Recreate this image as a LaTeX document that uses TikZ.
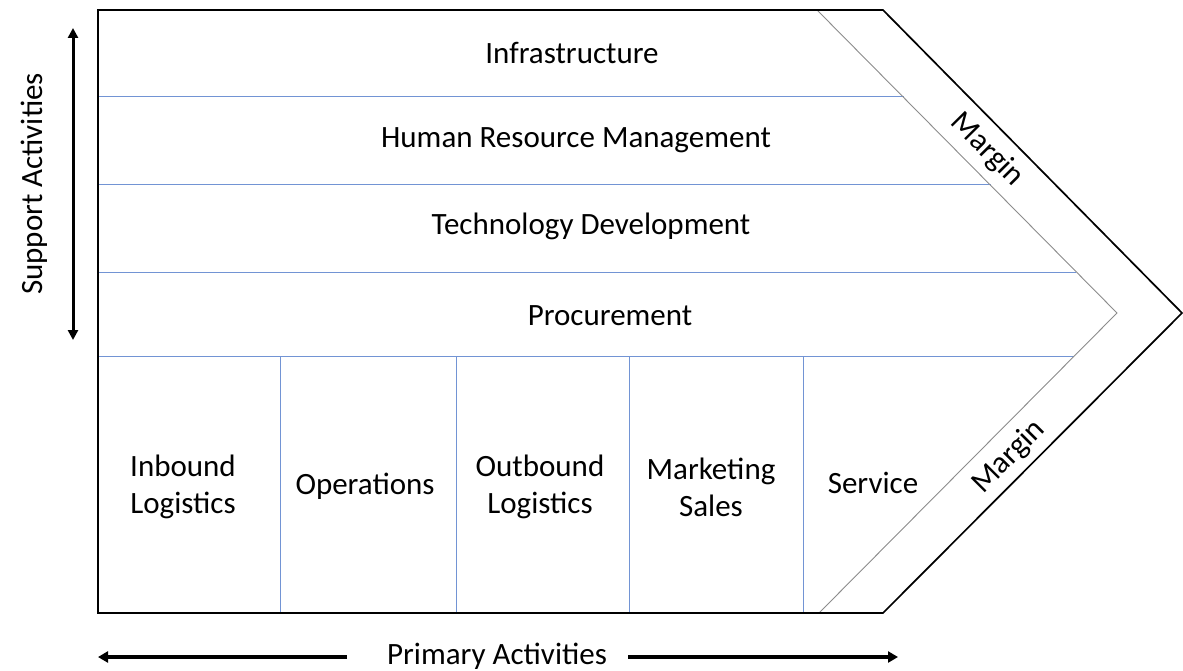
\documentclass[tikz,border=0pt]{standalone}
\usepackage{fontspec}
\setmainfont{Carlito}
\usetikzlibrary{arrows.meta}
\definecolor{rowblue}{HTML}{7294D4}
\definecolor{bandgrey}{HTML}{8C8C8C}
\tikzset{
  outline/.style={draw=black, line width=1.7pt, line join=miter},
  inner/.style={draw=bandgrey, line width=0.9pt},
  divider/.style={draw=rowblue, line width=1pt},
  lbl/.style={font=\fontsize{31}{37}\selectfont, align=center, inner sep=0pt},
  axis/.style={line width=3pt, {Triangle[length=10pt,width=10pt]}-{Triangle[length=10pt,width=10pt]}},
  axisR/.style={line width=3.6pt, -{Triangle[length=10pt,width=11pt]}},
}
\begin{document}
\begin{tikzpicture}[x=1pt,y=-1pt]
\path[use as bounding box, fill=white] (0,0) rectangle (1183,671);
% key points
\coordinate (tl) at (98,10);
\coordinate (tr) at (883,10);
\coordinate (tip) at (1182,313);
\coordinate (br) at (883,613);
\coordinate (bl) at (98,613);
\coordinate (itop) at (817,10);
\coordinate (itip) at (1117,313);
\coordinate (ibot) at (819,613);
% row dividers
\coordinate (r1l) at (98,97);   \coordinate (r1r) at (904,97);
\coordinate (r2l) at (98,185);  \coordinate (r2r) at (991,185);
\coordinate (r3l) at (98,272);  \coordinate (r3r) at (1076,272);
\coordinate (r4l) at (98,356);  \coordinate (r4r) at (1074,356);
\draw[divider] (r1l) -- (r1r);
\draw[divider] (r2l) -- (r2r);
\draw[divider] (r3l) -- (r3r);
\draw[divider] (r4l) -- (r4r);
% column dividers
\foreach \x [count=\i] in {280,456,629,803} {
  \coordinate (c\i t) at (\x,356);
  \coordinate (c\i b) at (\x,613);
  \draw[divider] (c\i t) -- (c\i b);
}
% inner margin line
\draw[inner] (itop) -- (itip) -- (ibot);
% outer outline
\draw[outline] (tl) -- (tr) -- (tip) -- (br) -- (bl) -- cycle;
% support labels
\node[lbl] (infra) at (572,53) {Infrastructure};
\node[lbl] (hrm) at (576,140) {Human Resource Management};
\node[lbl] (tech) at (591,226) {Technology Development};
\node[lbl] (proc) at (610,316) {Procurement};
% primary labels
\node[lbl] (inb) at (183,487) {Inbound\\Logistics};
\node[lbl] (ops) at (365,486) {Operations};
\node[lbl] (outb) at (540,487) {Outbound\\Logistics};
\node[lbl] (mkt) at (711,487) {Marketing\\Sales};
\node[lbl] (svc) at (873,483) {Service};
% margin labels
\node[lbl, rotate=-45.3] (m1) at (987,150) {Margin};
\node[lbl, rotate=45.2] (m2) at (1009,457) {Margin};
% axes
\coordinate (sa1) at (73,28);
\coordinate (sa2) at (73,340);
\draw[axis] (sa1) -- (sa2);
\node[lbl, rotate=90] (sup) at (34,184) {Support Activities};
\node[lbl] (prim) at (497,656) {Primary Activities};
\coordinate (pl1) at (347,657);
\coordinate (pl2) at (98,657);
\coordinate (pr1) at (628,657);
\coordinate (pr2) at (898,657);
\draw[axisR] (pl1) -- (pl2);
\draw[axisR] (pr1) -- (pr2);
\end{tikzpicture}
\end{document}
